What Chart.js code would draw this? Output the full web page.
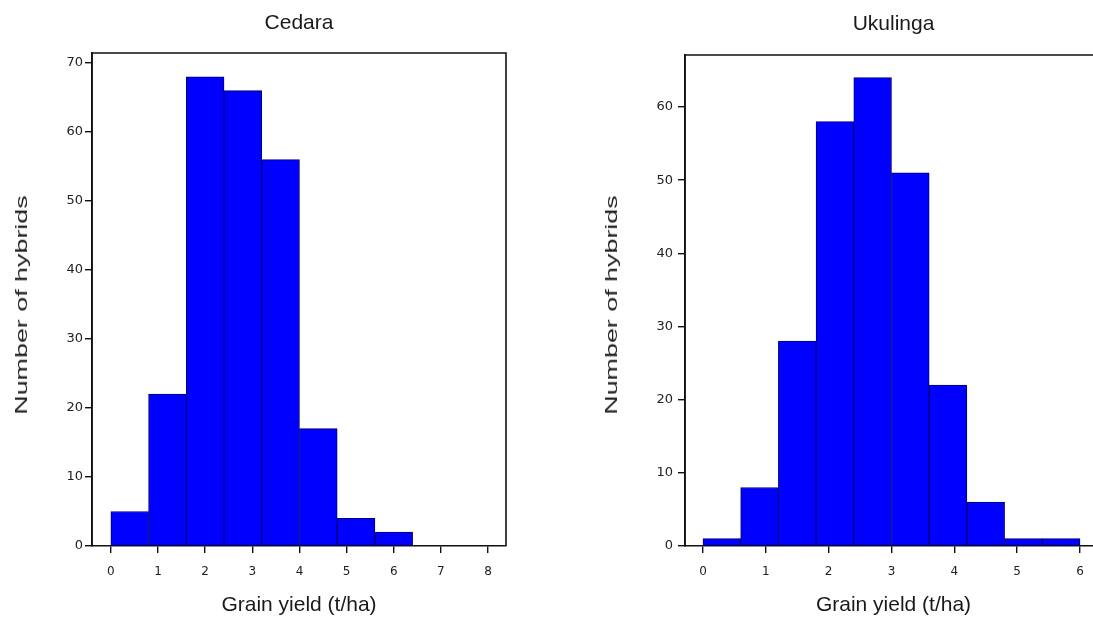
<!DOCTYPE html>
<html><head><meta charset="utf-8">
<script src="https://cdn.jsdelivr.net/npm/chart.js@4.4.1/dist/chart.umd.min.js"></script>
<style>
html,body{margin:0;padding:0;background:#fff;width:1093px;height:632px;overflow:hidden;position:relative;}
canvas{position:absolute;top:0;}
.ytitle{position:absolute;font-family:"Liberation Sans",Arial,sans-serif;font-size:17px;line-height:20px;color:#222;white-space:nowrap;transform:translate(-50%,-50%) rotate(-90deg) scaleX(1.58);}
</style></head>
<body>
<canvas id="c1" width="560" height="632" style="left:0px"></canvas>
<canvas id="c2" width="520" height="632" style="left:590px"></canvas>
<div class="ytitle" style="left:21.5px;top:305px">Number of hybrids</div>
<div class="ytitle" style="left:611.5px;top:305px">Number of hybrids</div>
<script>
// ---- data ----
const cedaraTitle = "Cedara";
const cedaraBinStart = [0, 0.8, 1.6, 2.4, 3.2, 4.0, 4.8, 5.6];
const cedaraBinWidth = 0.8;
const cedaraCounts = [5, 22, 68, 66, 56, 17, 4, 2];
const cedaraXRange = [-0.4, 8.38];
const cedaraYRange = [0, 71.45];

const ukulingaTitle = "Ukulinga";
const ukulingaBinStart = [0, 0.6, 1.2, 1.8, 2.4, 3.0, 3.6, 4.2, 4.8, 5.4];
const ukulingaBinWidth = 0.6;
const ukulingaCounts = [1, 8, 28, 58, 64, 51, 22, 6, 1, 1];
const ukulingaXRange = [-0.286, 6.35];
const ukulingaYRange = [0, 67.1];

const xAxisTitle = "Grain yield (t/ha)";
const xStep = 1;
const yStep = 10;

const framePlugin = {
  id: 'frame',
  afterDatasetsDraw(chart) {
    const {ctx, chartArea: a} = chart;
    ctx.save();
    ctx.strokeStyle = '#111';
    ctx.lineWidth = 1.6;
    ctx.beginPath();
    ctx.moveTo(a.left, a.bottom);
    ctx.lineTo(a.left, a.top);
    ctx.lineTo(a.right, a.top);
    ctx.lineTo(a.right, a.bottom);
    ctx.stroke();
    ctx.restore();
  }
};

const titleFont = {family: '"Liberation Sans", Arial, sans-serif', size: 21, weight: 'normal'};

function makeChart(id, title, binStart, binWidth, counts, xr, yr, g) {
  const pts = binStart.map((s, i) => ({x: s + binWidth / 2, y: counts[i]}));
  return new Chart(document.getElementById(id), {
    type: 'bar',
    data: {datasets: [{
      data: pts,
      backgroundColor: '#0000ff',
      borderColor: '#00006e',
      borderWidth: 1,
      borderSkipped: false,
      barPercentage: 1,
      categoryPercentage: 1
    }]},
    options: {
      responsive: false,
      animation: false,
      events: [],
      layout: {padding: {left: 0, right: g.padRight, top: 0, bottom: 0}},
      plugins: {
        legend: {display: false},
        tooltip: {enabled: false},
        title: {display: false}
      },
      scales: {
        x: {
          type: 'linear', min: xr[0], max: xr[1], offset: false,
          grid: {display: true, offset: false, drawOnChartArea: false, drawTicks: true, tickLength: 7, color: '#111', lineWidth: 1.4},
          border: {display: true, color: '#111', width: 1.6},
          ticks: {stepSize: xStep, includeBounds: false, padding: 11.8, color: '#222',
            font: {family: '"DejaVu Sans", sans-serif', size: 12}},
          title: {display: true, text: xAxisTitle, color: '#1a1a1a', font: titleFont,
            padding: {top: 0, bottom: 14.4}},
          afterFit(s) { s.height = g.xAxisHeight; }
        },
        xTop: {
          type: 'linear', position: 'top', min: xr[0], max: xr[1], offset: false,
          grid: {display: false, drawTicks: false},
          border: {display: false},
          ticks: {display: false},
          title: {display: true, text: title, color: '#1a1a1a', font: titleFont,
            padding: {top: g.titleTop, bottom: 0}},
          afterFit(s) { s.height = g.topHeight; }
        },
        y: {
          min: yr[0], max: yr[1],
          grid: {display: true, drawOnChartArea: false, drawTicks: true, tickLength: 7, color: '#111', lineWidth: 1.4},
          border: {display: true, color: '#111', width: 1.6},
          ticks: {stepSize: yStep, includeBounds: false, padding: g.yTickPad, color: '#222',
            font: {family: '"DejaVu Sans", sans-serif', size: 13}},
          title: {display: false},
          afterFit(s) { s.width = g.yAxisWidth; }
        }
      }
    },
    plugins: [framePlugin]
  });
}

makeChart('c1', cedaraTitle, cedaraBinStart, cedaraBinWidth, cedaraCounts, cedaraXRange, cedaraYRange,
  {padRight: 54, titleTop: 10.4, topHeight: 53, xAxisHeight: 86, yAxisWidth: 92, yTickPad: 2});
makeChart('c2', ukulingaTitle, ukulingaBinStart, ukulingaBinWidth, ukulingaCounts, ukulingaXRange, ukulingaYRange,
  {padRight: 8, titleTop: 11.9, topHeight: 55, xAxisHeight: 86, yAxisWidth: 95, yTickPad: 5});
</script>
</body></html>
